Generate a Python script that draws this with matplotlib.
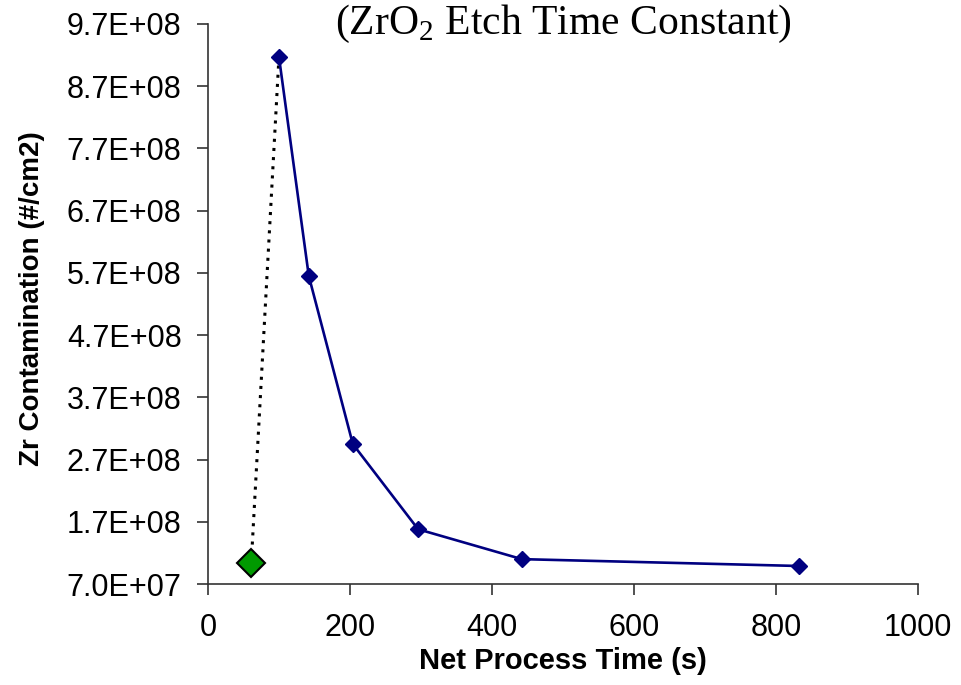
import matplotlib.pyplot as plt
from matplotlib.ticker import FuncFormatter

plt.rcParams['font.family'] = ['Liberation Sans', 'DejaVu Sans']
plt.rcParams['mathtext.fontset'] = 'custom'
plt.rcParams['mathtext.rm'] = 'Liberation Serif'

# Data
time_s = [100, 142, 204, 296, 442, 832]
zr_contam = [9.17e8, 5.65e8, 2.95e8, 1.58e8, 1.10e8, 0.99e8]
start_time = [61]
start_contam = [1.04e8]

y_ticks = [7.0e7, 1.7e8, 2.7e8, 3.7e8, 4.7e8, 5.7e8, 6.7e8, 7.7e8, 8.7e8, 9.7e8]
x_ticks = [0, 200, 400, 600, 800, 1000]

fig = plt.figure(figsize=(9.61, 6.85), dpi=100)
ax = fig.add_axes([0.2164, 0.1474, 0.7389, 0.8176])

# dotted link from the start point to the first measured point
ax.plot([start_time[0], time_s[0]], [start_contam[0], zr_contam[0]],
        linestyle=(0, (1, 2)), color='black', linewidth=2.2, zorder=2)
ax.plot(time_s, zr_contam, color='#000080', linewidth=1.9,
        marker='D', markersize=8, zorder=3)
ax.plot(start_time, start_contam, linestyle='none', marker='D',
        markersize=14.5, markerfacecolor='#009900', markeredgecolor='black',
        markeredgewidth=1.5, zorder=4)

ax.set_xlim(0, 1000)
ax.set_ylim(7.0e7, 9.7e8)
ax.set_xticks(x_ticks)
ax.set_yticks(y_ticks)
ax.yaxis.set_major_formatter(FuncFormatter(lambda v, p: f"{v:.1E}"))

for s in ['top', 'right']:
    ax.spines[s].set_visible(False)
for s in ['left', 'bottom']:
    ax.spines[s].set_color('#333333')
    ax.spines[s].set_linewidth(1.2)
ax.tick_params(direction='out', length=8, width=1.2, color='#333333',
               labelsize=22)
ax.tick_params(axis='y', pad=11)
ax.tick_params(axis='x', pad=13)

fig.text(0.586, 0.035, 'Net Process Time (s)', fontsize=21,
         fontweight='bold', ha='center', va='center')
fig.text(0.033, 0.5635, 'Zr Contamination (#/cm2)', fontsize=20,
         fontweight='bold', ha='center', va='center', rotation=90)

fig.text(0.586, 0.951, r'(ZrO$_\mathrm{2}$ Etch Time Constant)',
         family='Liberation Serif', fontsize=30, ha='center', va='baseline')

fig.savefig('out.png', dpi=100)
